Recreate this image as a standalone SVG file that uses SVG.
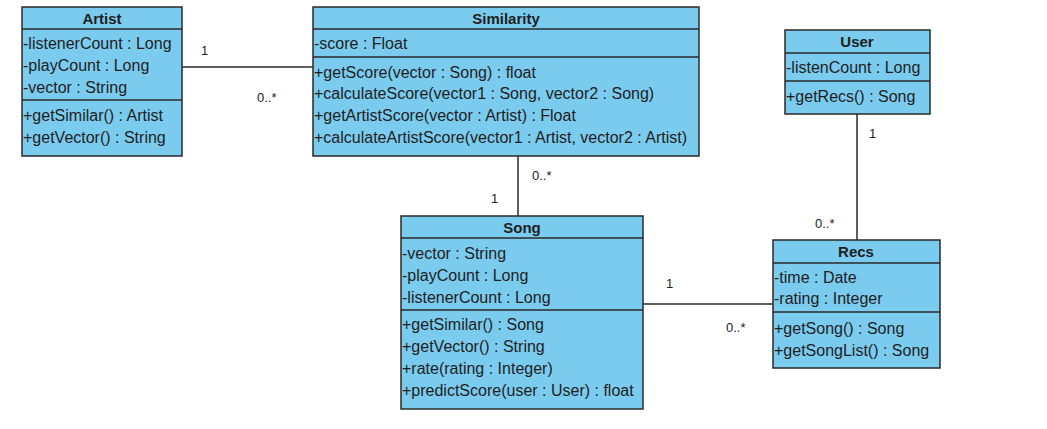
<svg xmlns="http://www.w3.org/2000/svg" width="1047" height="429" viewBox="0 0 1047 429">
<style>
.box{fill:#7BCBEF;stroke:#2a2a2a;stroke-width:1.5}
.sep{stroke:#2a2a2a;stroke-width:1.5}
.t{font-family:"Liberation Sans",Arial,sans-serif;font-size:16px;fill:#1e1e1e}
.h{font-family:"Liberation Sans",Arial,sans-serif;font-size:15px;font-weight:bold;fill:#1e1e1e;text-anchor:middle}
.c{stroke:#2a2a2a;stroke-width:1.5;fill:none}
.m{font-family:"Liberation Sans",Arial,sans-serif;font-size:13px;fill:#222}
</style>
<rect width="1047" height="429" fill="#fff"/>
<g id="connectors">
<line class="c" x1="182" y1="67" x2="313" y2="67"/>
<line class="c" x1="518" y1="156" x2="518" y2="216"/>
<line class="c" x1="643" y1="304" x2="773" y2="304"/>
<line class="c" x1="857" y1="114" x2="857" y2="240"/>
<text class="m" x="201" y="55">1</text>
<text class="m" x="257" y="102">0..*</text>
<text class="m" x="532" y="180">0..*</text>
<text class="m" x="491" y="203">1</text>
<text class="m" x="666" y="288">1</text>
<text class="m" x="726" y="332">0..*</text>
<text class="m" x="869" y="138">1</text>
<text class="m" x="815" y="228">0..*</text>
</g>
<g id="artist">
<rect class="box" x="22" y="7" width="160" height="149"/>
<line class="sep" x1="22" y1="29" x2="182" y2="29"/>
<line class="sep" x1="22" y1="100" x2="182" y2="100"/>
<text class="h" x="102" y="24">Artist</text>
<text class="t" x="23" y="49">-listenerCount : Long</text>
<text class="t" x="23" y="71">-playCount : Long</text>
<text class="t" x="23" y="93">-vector : String</text>
<text class="t" x="23" y="121">+getSimilar() : Artist</text>
<text class="t" x="23" y="143">+getVector() : String</text>
</g>
<g id="similarity">
<rect class="box" x="313" y="7" width="386" height="149"/>
<line class="sep" x1="313" y1="29" x2="699" y2="29"/>
<line class="sep" x1="313" y1="57" x2="699" y2="57"/>
<text class="h" x="506" y="24">Similarity</text>
<text class="t" x="314" y="49">-score : Float</text>
<text class="t" x="314" y="78">+getScore(vector : Song) : float</text>
<text class="t" x="314" y="99">+calculateScore(vector1 : Song, vector2 : Song)</text>
<text class="t" x="314" y="121">+getArtistScore(vector : Artist) : Float</text>
<text class="t" x="314" y="143">+calculateArtistScore(vector1 : Artist, vector2 : Artist)</text>
</g>
<g id="song">
<rect class="box" x="401" y="216" width="242" height="193"/>
<line class="sep" x1="401" y1="238" x2="643" y2="238"/>
<line class="sep" x1="401" y1="310" x2="643" y2="310"/>
<text class="h" x="522" y="233">Song</text>
<text class="t" x="402" y="259">-vector : String</text>
<text class="t" x="402" y="281">-playCount : Long</text>
<text class="t" x="402" y="303">-listenerCount : Long</text>
<text class="t" x="402" y="330">+getSimilar() : Song</text>
<text class="t" x="402" y="352">+getVector() : String</text>
<text class="t" x="402" y="374">+rate(rating : Integer)</text>
<text class="t" x="402" y="396">+predictScore(user : User) : float</text>
</g>
<g id="user">
<rect class="box" x="785" y="30" width="145" height="84"/>
<line class="sep" x1="785" y1="53" x2="930" y2="53"/>
<line class="sep" x1="785" y1="81" x2="930" y2="81"/>
<text class="h" x="857" y="47">User</text>
<text class="t" x="786" y="73">-listenCount : Long</text>
<text class="t" x="786" y="102">+getRecs() : Song</text>
</g>
<g id="recs">
<rect class="box" x="773" y="240" width="167" height="128"/>
<line class="sep" x1="773" y1="263" x2="940" y2="263"/>
<line class="sep" x1="773" y1="312" x2="940" y2="312"/>
<text class="h" x="856" y="257">Recs</text>
<text class="t" x="774" y="283">-time : Date</text>
<text class="t" x="774" y="304">-rating : Integer</text>
<text class="t" x="774" y="334">+getSong() : Song</text>
<text class="t" x="774" y="356">+getSongList() : Song</text>
</g>
</svg>
